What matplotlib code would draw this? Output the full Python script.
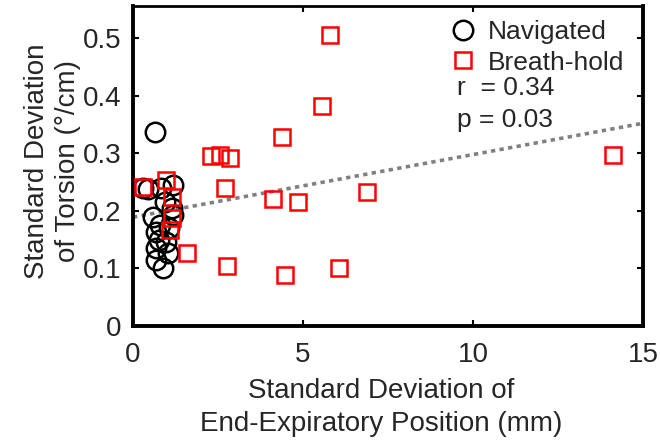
import numpy as np
import matplotlib
matplotlib.use('Agg')
import matplotlib.pyplot as plt
from matplotlib.lines import Line2D

plt.rcParams['font.family'] = ['Liberation Sans', 'DejaVu Sans']

# navigated (black circles)
nav_x = [0.65, 0.30, 0.45, 0.83, 1.18, 1.15, 0.59, 1.18, 0.95, 0.68, 0.97,
         0.68, 1.03, 0.68, 0.88, 0.80, 1.05, 0.75]
nav_y = [0.337, 0.240, 0.238, 0.240, 0.245, 0.205, 0.190, 0.193, 0.215, 0.163, 0.146,
         0.135, 0.127, 0.115, 0.100, 0.175, 0.170, 0.150]

# breath-hold (red squares)
bh_x = [5.79, 5.56, 4.38, 2.29, 2.56, 2.85, 2.70, 0.30, 0.98, 1.15, 1.15,
        1.08, 1.59, 2.76, 4.12, 4.85, 6.88, 14.12, 4.47, 6.06]
bh_y = [0.505, 0.382, 0.328, 0.295, 0.297, 0.292, 0.240, 0.241, 0.253, 0.224, 0.188,
        0.167, 0.127, 0.104, 0.220, 0.215, 0.233, 0.297, 0.089, 0.100]

# regression line end points
fit_x = [0.0, 15.0]
fit_y = [0.189, 0.352]

txt = '#262626'

fig = plt.figure(figsize=(6.6, 4.43), dpi=100)
ax = fig.add_axes([133/660, 1-326/443, 510/660, 320/443])

ax.plot(fit_x, fit_y, color='#808080', lw=2.6, ls=(0, (1.2, 1.2)), zorder=1)
ax.plot(nav_x, nav_y, 'o', ms=14, mfc='none', mec='black', mew=1.8, zorder=2)
ax.plot(bh_x, bh_y, 's', ms=12, mfc='none', mec='red', mew=1.8, zorder=3)

ax.set_xlim(0, 15)
ax.set_ylim(0, 0.5556)
ax.set_xticks([0, 5, 10, 15])
ax.set_yticks([0, 0.1, 0.2, 0.3, 0.4, 0.5])
ax.set_yticklabels(['0', '0.1', '0.2', '0.3', '0.4', '0.5'])
ax.tick_params(direction='in', length=4, width=1.5, labelsize=20, labelcolor=txt,
               top=True, right=True)
ax.tick_params(axis='x', pad=11.5)
ax.tick_params(axis='y', pad=8.5)
for s in ['left', 'right', 'bottom']:
    ax.spines[s].set_linewidth(2.8)
ax.spines['top'].set_linewidth(2.0)

ax.set_xlabel('Standard Deviation of\nEnd-Expiratory Position (mm)', fontsize=20,
              color=txt, linespacing=1.36, labelpad=7, x=0.486)
ax.set_ylabel('Standard Deviation\nof Torsion (°/cm)', fontsize=20, color=txt,
              linespacing=1.28, labelpad=1, y=0.516)

handles = [Line2D([], [], marker='o', ls='none', ms=14, mfc='none', mec='black', mew=1.8),
           Line2D([], [], marker='s', ls='none', ms=12, mfc='none', mec='red', mew=1.8)]
leg = ax.legend(handles, ['Navigated', 'Breath-hold'], loc='upper left',
                bbox_to_anchor=(0.579, 1.013), frameon=False, fontsize=19,
                handletextpad=0.35, labelspacing=0.24, handlelength=1.2, borderpad=0.2)
for t in leg.get_texts():
    t.set_color(txt)

ax.text(0.636, 0.745, 'r  = 0.34', transform=ax.transAxes, fontsize=19, color=txt, va='center')
ax.text(0.636, 0.645, 'p = 0.03', transform=ax.transAxes, fontsize=19, color=txt, va='center')

fig.savefig('out.png', dpi=100)
